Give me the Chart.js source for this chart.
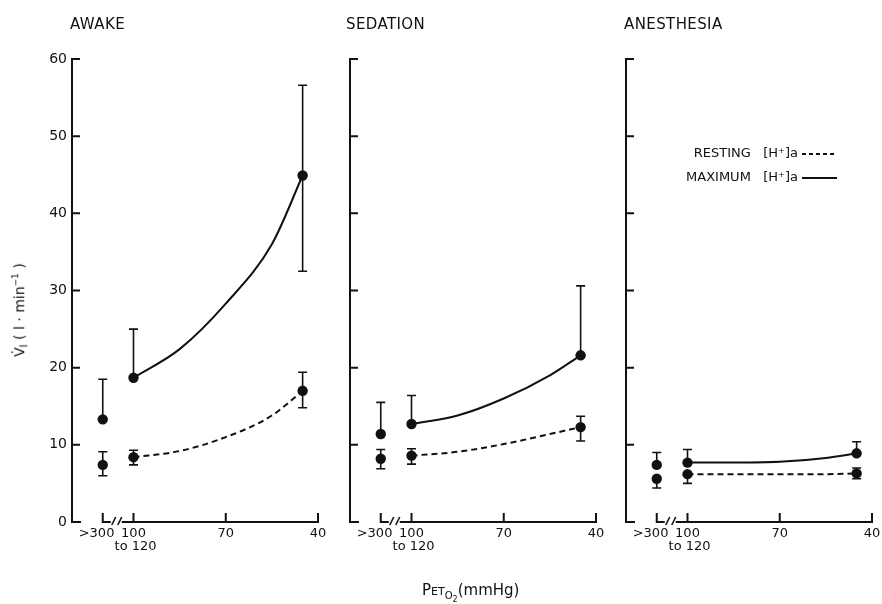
<!DOCTYPE html>
<html>
<head>
<meta charset="utf-8">
<script src="https://cdn.jsdelivr.net/npm/chart.js@4.4.0/dist/chart.umd.min.js"></script>
<style>
  body { margin: 0; background: #fff; font-family: "DejaVu Sans", sans-serif; color: #111; }
  #page { position: relative; width: 882px; height: 604px; overflow: hidden; }
  canvas { position: absolute; top: 0; }
  .title { position: absolute; top: 15px; font-size: 15px; letter-spacing: 0.4px; }
  #ytitle { position: absolute; left: 20px; top: 310px; font-size: 14px; white-space: nowrap;
            transform: translate(-50%, -50%) rotate(-90deg); }
  #xtitle { position: absolute; left: 422px; top: 581px; font-size: 15px; white-space: nowrap; }
</style>
</head>
<body>
<div id="page">
  <canvas id="c1" width="320" height="604" style="left:12px"></canvas>
  <canvas id="c2" width="320" height="604" style="left:290px"></canvas>
  <canvas id="c3" width="320" height="604" style="left:566px"></canvas>
  <div class="title" style="left:70px">AWAKE</div>
  <div class="title" style="left:346px">SEDATION</div>
  <div class="title" style="left:624px">ANESTHESIA</div>
  <div id="ytitle">V̇<sub style="font-size:10px">I</sub> ( l · min<sup style="font-size:9px">−1</sup> )</div>
  <div id="xtitle">P<span style="font-size:11px">ET</span><sub style="font-size:10px">O<sub style="font-size:8px">2</sub></sub>(mmHg)</div>
</div>
<script>
// x positions: 110 stands for the ">300" group left of the axis break
const pointX = [110, 100, 45];
const curveX = [100, 85, 70, 55, 45];
const xTicks = [110, 100, 70, 40];
const xTickLabels = ['>300   ', ['100', ' to 120'], '70', '40'];
const yTicks = [0, 10, 20, 30, 40, 50, 60];

// AWAKE
const awakeMax = [13.3, 18.7, 44.9];
const awakeMaxHi = [18.5, 25.0, 56.6];
const awakeMaxLo = [null, null, 32.5];
const awakeRest = [7.4, 8.4, 17.0];
const awakeRestHi = [9.1, 9.3, 19.4];
const awakeRestLo = [6.0, 7.4, 14.8];
const awakeMaxCurve = [18.7, 22.4, 28.3, 36.0, 44.9];
const awakeRestCurve = [8.4, 9.2, 11.0, 13.8, 17.0];

// SEDATION
const sedMax = [11.4, 12.7, 21.6];
const sedMaxHi = [15.5, 16.4, 30.6];
const sedMaxLo = [null, null, null];
const sedRest = [8.2, 8.6, 12.3];
const sedRestHi = [9.4, 9.5, 13.7];
const sedRestLo = [6.9, 7.5, 10.5];
const sedMaxCurve = [12.7, 13.8, 16.0, 19.0, 21.6];
const sedRestCurve = [8.6, 9.1, 10.1, 11.4, 12.3];

// ANESTHESIA
const anMax = [7.4, 7.7, 8.9];
const anMaxHi = [9.0, 9.4, 10.4];
const anMaxLo = [null, null, null];
const anRest = [5.6, 6.2, 6.3];
const anRestHi = [null, null, 7.0];
const anRestLo = [4.4, 5.0, 5.6];
const anMaxCurve = [7.7, 7.7, 7.8, 8.3, 8.9];
const anRestCurve = [6.2, 6.2, 6.2, 6.2, 6.3];

const INK = '#111';
const FONT = 'DejaVu Sans';

function pts(xs, ys) {
    return xs.map((x, i) => ({ x: x, y: ys[i] }));
}

// axes with inward ticks, axis break, error bars, optional legend
const figurePlugin = {
    id: 'figure',
    beforeDatasetsDraw(chart) {
        const ctx = chart.ctx;
        const xs = chart.scales.x, ys = chart.scales.y;
        const a = chart.chartArea;
        ctx.save();
        ctx.strokeStyle = INK;
        ctx.lineWidth = 2;
        ctx.lineCap = 'butt';

        // y axis
        ctx.beginPath();
        ctx.moveTo(a.left, ys.getPixelForValue(60) - 1);
        ctx.lineTo(a.left, a.bottom + 1);
        yTicks.forEach(v => {
            if (v === 0) return;
            const py = ys.getPixelForValue(v);
            ctx.moveTo(a.left, py);
            ctx.lineTo(a.left + 8, py);
        });
        ctx.stroke();

        // x axis with break
        const by = a.bottom;
        const p300 = xs.getPixelForValue(110);
        ctx.beginPath();
        ctx.moveTo(a.left, by);
        ctx.lineTo(a.left + 9, by);
        ctx.moveTo(p300, by);
        ctx.lineTo(p300 + 8, by);
        ctx.moveTo(p300 + 19, by);
        ctx.lineTo(xs.getPixelForValue(40), by);
        xTicks.forEach(v => {
            const px = xs.getPixelForValue(v);
            ctx.moveTo(px, by + 1);
            ctx.lineTo(px, by - 9);
        });
        ctx.stroke();
        ctx.lineWidth = 1.6;
        ctx.beginPath();
        ctx.moveTo(p300 + 9, by + 3);
        ctx.lineTo(p300 + 13, by - 5);
        ctx.moveTo(p300 + 15, by + 3);
        ctx.lineTo(p300 + 19, by - 5);
        ctx.stroke();

        // error bars
        ctx.lineWidth = 1.6;
        const bars = chart.options.plugins.figure.bars;
        bars.forEach(b => {
            pointX.forEach((x, i) => {
                const px = xs.getPixelForValue(x);
                const py = ys.getPixelForValue(b.mid[i]);
                [b.hi[i], b.lo[i]].forEach(e => {
                    if (e == null) return;
                    const pe = ys.getPixelForValue(e);
                    ctx.beginPath();
                    ctx.moveTo(px, py);
                    ctx.lineTo(px, pe);
                    ctx.moveTo(px - 4.5, pe);
                    ctx.lineTo(px + 4.5, pe);
                    ctx.stroke();
                });
            });
        });

        // legend, placed relative to the chart area
        if (chart.options.plugins.figure.showKey) {
            ctx.fillStyle = INK;
            ctx.font = '13px "' + FONT + '"';
            ctx.textAlign = 'right';
            ctx.textBaseline = 'middle';
            const rows = [['RESTING   [H⁺]a', [4, 3]], ['MAXIMUM   [H⁺]a', []]];
            const kx = a.left + 172;
            rows.forEach((r, i) => {
                const y = a.top + 95 + i * 24;
                ctx.fillText(r[0], kx, y);
                ctx.setLineDash(r[1]);
                ctx.lineWidth = 1.8;
                ctx.beginPath();
                ctx.moveTo(kx + 4, y);
                ctx.lineTo(kx + 39, y);
                ctx.stroke();
            });
            ctx.setLineDash([]);
        }
        ctx.restore();
    }
};

function makePanel(id, d, showY, showKey) {
    const c = document.getElementById(id);
    return new Chart(c, {
        type: 'line',
        data: {
            datasets: [
                { data: pts(curveX, d.maxCurve), borderColor: INK, borderWidth: 2, pointRadius: 0,
                  cubicInterpolationMode: 'monotone', fill: false },
                { data: pts(curveX, d.restCurve), borderColor: INK, borderWidth: 2, borderDash: [6, 4],
                  pointRadius: 0, cubicInterpolationMode: 'monotone', fill: false },
                { data: pts(pointX, d.max), showLine: false, pointRadius: 5.2, pointBackgroundColor: INK,
                  pointBorderWidth: 0 },
                { data: pts(pointX, d.rest), showLine: false, pointRadius: 5.2, pointBackgroundColor: INK,
                  pointBorderWidth: 0 }
            ]
        },
        options: {
            responsive: false,
            animation: false,
            layout: { padding: { top: 59, right: 14, left: 0, bottom: 0 } },
            plugins: {
                legend: { display: false },
                tooltip: { enabled: false },
                figure: {
                    showKey: showKey,
                    bars: [
                        { mid: d.max, hi: d.maxHi, lo: d.maxLo },
                        { mid: d.rest, hi: d.restHi, lo: d.restLo }
                    ]
                }
            },
            scales: {
                x: {
                    type: 'linear', min: 40, max: 120, reverse: true,
                    afterBuildTicks: s => { s.ticks = xTicks.map(v => ({ value: v })); },
                    afterFit: s => { s.height = 82; },
                    ticks: {
                        autoSkip: false, maxRotation: 0, padding: 5, color: INK,
                        font: { family: FONT, size: 13, lineHeight: 1.0 },
                        callback: (v, i) => xTickLabels[i]
                    },
                    grid: { display: false, drawTicks: false },
                    border: { display: false }
                },
                y: {
                    min: 0, max: 60,
                    afterBuildTicks: s => { s.ticks = yTicks.map(v => ({ value: v })); },
                    afterFit: s => { s.width = 60; },
                    ticks: { display: showY, padding: 5, color: INK, font: { family: FONT, size: 14 } },
                    grid: { display: false, drawTicks: false },
                    border: { display: false }
                }
            }
        },
        plugins: [figurePlugin]
    });
}

makePanel('c1', { max: awakeMax, maxHi: awakeMaxHi, maxLo: awakeMaxLo, rest: awakeRest, restHi: awakeRestHi,
    restLo: awakeRestLo, maxCurve: awakeMaxCurve, restCurve: awakeRestCurve }, true, false);
makePanel('c2', { max: sedMax, maxHi: sedMaxHi, maxLo: sedMaxLo, rest: sedRest, restHi: sedRestHi,
    restLo: sedRestLo, maxCurve: sedMaxCurve, restCurve: sedRestCurve }, false, false);
makePanel('c3', { max: anMax, maxHi: anMaxHi, maxLo: anMaxLo, rest: anRest, restHi: anRestHi,
    restLo: anRestLo, maxCurve: anMaxCurve, restCurve: anRestCurve }, false, true);
</script>
</body>
</html>
